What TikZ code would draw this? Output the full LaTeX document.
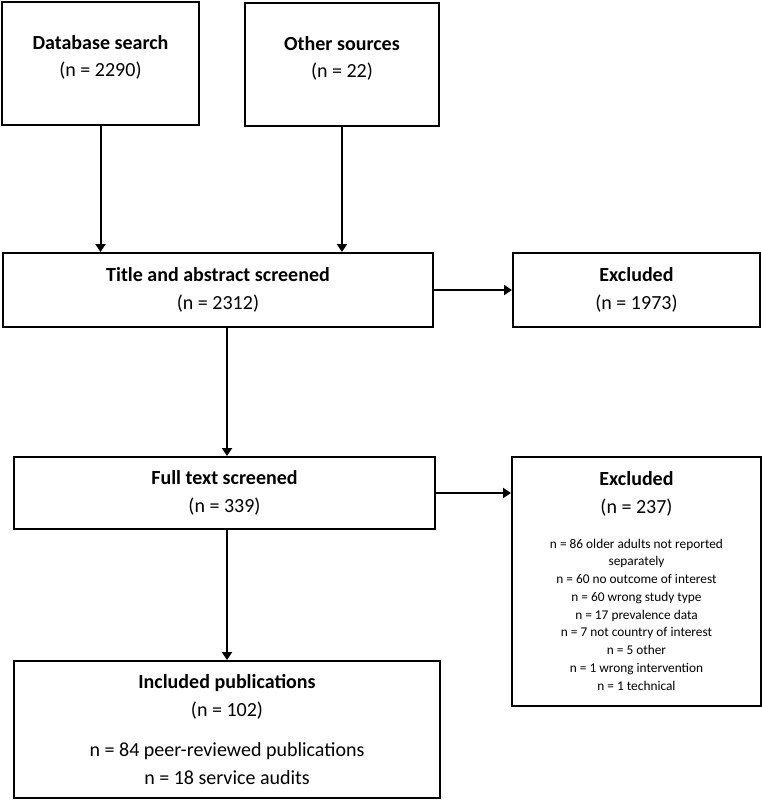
\documentclass[tikz,border=0pt]{standalone}
\usepackage{fontspec}
\setmainfont{Carlito}
\usepackage{tikz}
\usetikzlibrary{arrows.meta,calc}
\newdimen\pxu \pxu=0.75pt
\tikzset{
  FlowBox/.style={
    draw, rectangle, line width=1.5pt,
    align=center, inner sep=0pt,
    font=\fontsize{15}{20.5}\selectfont
  },
  FlowArrow/.style={
    line width=1.5pt,
    -{Triangle[length=6pt,width=7.5pt]}
  }
}

\begin{document}
\begin{tikzpicture}[x=0.75pt, y=-0.75pt, line join=miter]
  \useasboundingbox (0,0) rectangle (762,800);

  % identification
  \node[FlowBox, minimum width=197\pxu, minimum height=123\pxu, text depth=11pt] (dbsearch) at (100.5,63.5)
    {\textbf{Database search}\\(n = 2290)};
  \node[FlowBox, minimum width=194\pxu, minimum height=123\pxu, text depth=11pt] (othersrc) at (342,64.5)
    {\textbf{Other sources}\\(n = 22)};

  % screening
  \node[FlowBox, minimum width=430\pxu, minimum height=74\pxu] (screened) at (218,290)
    {\textbf{Title and abstract screened}\\(n = 2312)};
  \node[FlowBox, minimum width=247\pxu, minimum height=74\pxu] (exclA) at (636.5,290)
    {\textbf{Excluded}\\(n = 1973)};

  % eligibility
  \node[FlowBox, minimum width=421\pxu, minimum height=72\pxu] (fulltext) at (224.5,493)
    {\textbf{Full text screened}\\(n = 339)};
  \node[FlowBox, align=flush center, minimum width=249\pxu, minimum height=249\pxu, text width=240\pxu] (exclB) at (636.5,581)
    {\textbf{Excluded}\par
     (n = 237)\par\vspace{13pt}
     \fontsize{10}{13.3}\selectfont
     n = 86 older adults not reported\\separately\\
     n = 60 no outcome of interest\\
     n = 60 wrong study type\\
     n = 17 prevalence data\\
     n = 7 not country of interest\\
     n = 5 other\\
     n = 1 wrong intervention\\
     n = 1 technical\par};

  % included
  \node[FlowBox, minimum width=426\pxu, minimum height=137\pxu] (included) at (227,729.5)
    {\textbf{Included publications}\\(n = 102)\\[10pt]n = 84 peer-reviewed publications\\n = 18 service audits};

  % arrows
  \coordinate (spine) at (227,0);
  \draw[FlowArrow] (dbsearch.south) -- (dbsearch.south |- screened.north);
  \draw[FlowArrow] (othersrc.south) -- (othersrc.south |- screened.north);
  \draw[FlowArrow] (screened.east |- exclA.west) -- (exclA.west);
  \draw[FlowArrow] (screened.south -| spine) -- (fulltext.north -| spine);
  \draw[FlowArrow] (fulltext.east) -- (fulltext.east -| exclB.west);
  \draw[FlowArrow] (fulltext.south -| spine) -- (included.north -| spine);
\end{tikzpicture}
\end{document}
